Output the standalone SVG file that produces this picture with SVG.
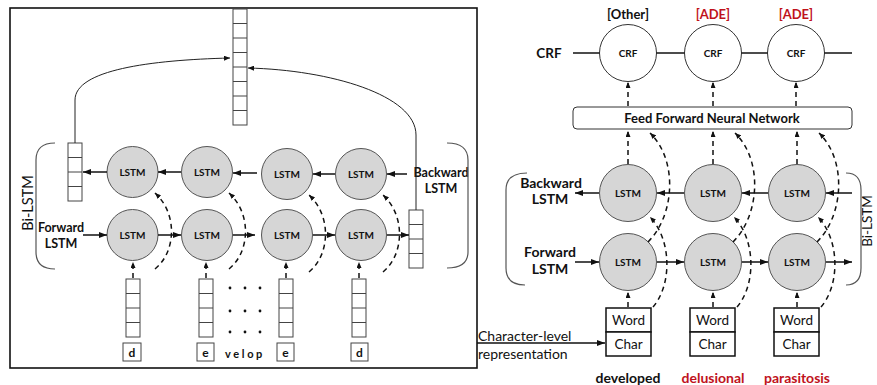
<svg xmlns="http://www.w3.org/2000/svg" xmlns:xlink="http://www.w3.org/1999/xlink" width="877" height="385" viewBox="0 0 877 385">
  <defs>
    <style>
      text { font-family: Lato, "Liberation Sans", sans-serif; fill: #111; }
      .b { font-weight: bold; }
      .red { fill: #c0121c; }
      .lstm { fill: #d6d6d6; stroke: #555; stroke-width: 1; }
      .crf { fill: #fff; stroke: #333; stroke-width: 1; }
      .cell { fill: #fff; stroke: #444; stroke-width: 1; }
      .solid { fill: none; stroke: #111; stroke-width: 1.5; }
      .thin { fill: none; stroke: #222; stroke-width: 1; }
      .dash { fill: none; stroke: #111; stroke-width: 1.5; stroke-dasharray: 5 4; }
      .brace { fill: none; stroke: #555; stroke-width: 1.2; }
      .lt { font-size: 10px; font-weight: bold; text-anchor: middle; dominant-baseline: central; }
    </style>
    <marker id="ah" viewBox="0 0 8 6" refX="8" refY="3" markerWidth="8" markerHeight="6" markerUnits="userSpaceOnUse" orient="auto">
      <path d="M0,0 L8,3 L0,6 z" fill="#111"/>
    </marker>
    <marker id="ahs" viewBox="0 0 6 5" refX="6" refY="2.5" markerWidth="6" markerHeight="5" markerUnits="userSpaceOnUse" orient="auto">
      <path d="M0,0 L6,2.5 L0,5 z" fill="#111"/>
    </marker>
    <!-- four-cell vector -->
    <g id="vec4">
      <rect class="cell" x="0" y="0" width="14" height="58"/>
      <line class="cell" x1="0" y1="14.5" x2="14" y2="14.5"/>
      <line class="cell" x1="0" y1="29" x2="14" y2="29"/>
      <line class="cell" x1="0" y1="43.5" x2="14" y2="43.5"/>
    </g>
  </defs>

  <rect x="0" y="0" width="877" height="385" fill="#fff"/>

  <!-- ===== Character-level Bi-LSTM panel ===== -->
  <rect x="10" y="8" width="467" height="360" fill="none" stroke="#111" stroke-width="1.6"/>

  <!-- concatenated character representation -->
  <g id="char-repr">
    <rect class="cell" x="233" y="9" width="14" height="116"/>
    <line class="cell" x1="233" y1="23.5" x2="247" y2="23.5"/>
    <line class="cell" x1="233" y1="38" x2="247" y2="38"/>
    <line class="cell" x1="233" y1="52.5" x2="247" y2="52.5"/>
    <line class="cell" x1="233" y1="67" x2="247" y2="67"/>
    <line class="cell" x1="233" y1="81.5" x2="247" y2="81.5"/>
    <line class="cell" x1="233" y1="96" x2="247" y2="96"/>
    <line class="cell" x1="233" y1="110.5" x2="247" y2="110.5"/>
  </g>

  <g id="bwd-out"><use xlink:href="#vec4" x="68" y="143"/></g>
  <g id="fwd-out"><use xlink:href="#vec4" x="409" y="210"/></g>

  <g id="char-in-1"><use xlink:href="#vec4" x="126" y="279"/><rect class="cell" x="123" y="343" width="18" height="18"/><text class="b" x="132" y="352" font-size="12" text-anchor="middle" dominant-baseline="central">d</text></g>
  <g id="char-in-2"><use xlink:href="#vec4" x="199" y="279"/><rect class="cell" x="197" y="343" width="17" height="18"/><text class="b" x="205.5" y="352" font-size="12" text-anchor="middle" dominant-baseline="central">e</text></g>
  <g id="char-in-3"><use xlink:href="#vec4" x="279" y="279"/><rect class="cell" x="277" y="343" width="17" height="18"/><text class="b" x="285.5" y="352" font-size="12" text-anchor="middle" dominant-baseline="central">e</text></g>
  <g id="char-in-4"><use xlink:href="#vec4" x="352" y="279"/><rect class="cell" x="351" y="343" width="17" height="18"/><text class="b" x="359.5" y="352" font-size="12" text-anchor="middle" dominant-baseline="central">d</text></g>

  <g id="ellipsis" fill="#111">
    <circle cx="230" cy="288" r="1.4"/><circle cx="245" cy="288" r="1.4"/><circle cx="260" cy="288" r="1.4"/>
    <circle cx="230" cy="311" r="1.4"/><circle cx="245" cy="311" r="1.4"/><circle cx="260" cy="311" r="1.4"/>
    <circle cx="230" cy="332" r="1.4"/><circle cx="245" cy="332" r="1.4"/><circle cx="260" cy="332" r="1.4"/>
    <text class="b" x="245" y="353" font-size="11" letter-spacing="2.6" text-anchor="middle" dominant-baseline="central">velop</text>
  </g>

  <g id="c-bwd-1"><circle class="lstm" cx="132.5" cy="172" r="25.5"/><text class="lt" x="132.5" y="172">LSTM</text></g>
  <g id="c-bwd-2"><circle class="lstm" cx="207" cy="172" r="25.5"/><text class="lt" x="207" y="172">LSTM</text></g>
  <g id="c-bwd-3"><circle class="lstm" cx="287" cy="174" r="25.5"/><text class="lt" x="287" y="174">LSTM</text></g>
  <g id="c-bwd-4"><circle class="lstm" cx="361" cy="174" r="25.5"/><text class="lt" x="361" y="174">LSTM</text></g>
  <g id="c-fwd-1"><circle class="lstm" cx="132.5" cy="235" r="25.5"/><text class="lt" x="132.5" y="235">LSTM</text></g>
  <g id="c-fwd-2"><circle class="lstm" cx="207" cy="235" r="25.5"/><text class="lt" x="207" y="235">LSTM</text></g>
  <g id="c-fwd-3"><circle class="lstm" cx="287" cy="235" r="25.5"/><text class="lt" x="287" y="235">LSTM</text></g>
  <g id="c-fwd-4"><circle class="lstm" cx="361" cy="235" r="25.5"/><text class="lt" x="361" y="235">LSTM</text></g>

  <g id="c-labels">
    <text class="b" x="441" y="172" font-size="12.5" text-anchor="middle" dominant-baseline="central">Backward</text>
    <text class="b" x="441" y="188" font-size="12.5" text-anchor="middle" dominant-baseline="central">LSTM</text>
    <text class="b" x="61" y="227" font-size="12.5" text-anchor="middle" dominant-baseline="central">Forward</text>
    <text class="b" x="61" y="243" font-size="12.5" text-anchor="middle" dominant-baseline="central">LSTM</text>
    <text x="27" y="203" font-size="14.5" text-anchor="middle" dominant-baseline="central" transform="rotate(-90 27 203)">Bi-LSTM</text>
    <path class="brace" d="M55,143 Q36,143 36,160 L36,252 Q36,269 55,269"/>
    <path class="brace" d="M447,143 Q468,143 468,160 L468,252 Q468,268 447,268"/>
  </g>

  <!-- ===== Word-level Bi-LSTM-CRF panel ===== -->
  <g id="crf-labels">
    <text class="b" x="549" y="53" font-size="13.5" text-anchor="middle" dominant-baseline="central">CRF</text>
    <text class="b" x="628" y="14" font-size="13" text-anchor="middle" dominant-baseline="central">[Other]</text>
    <text class="b red" x="713" y="14" font-size="13" text-anchor="middle" dominant-baseline="central">[ADE]</text>
    <text class="b red" x="796" y="14" font-size="13" text-anchor="middle" dominant-baseline="central">[ADE]</text>
  </g>
  <g id="crf-1"><circle class="crf" cx="628" cy="53" r="28.5"/><text class="lt" x="628" y="53">CRF</text></g>
  <g id="crf-2"><circle class="crf" cx="713" cy="53" r="28.5"/><text class="lt" x="713" y="53">CRF</text></g>
  <g id="crf-3"><circle class="crf" cx="796" cy="53" r="28.5"/><text class="lt" x="796" y="53">CRF</text></g>

  <g id="ffnn">
    <rect x="573" y="107" width="279" height="22" rx="4" fill="#fff" stroke="#333" stroke-width="1"/>
    <text class="b" x="712" y="118" font-size="13" text-anchor="middle" dominant-baseline="central">Feed Forward Neural Network</text>
  </g>

  <g id="w-bwd-1"><circle class="lstm" cx="628" cy="193" r="28.5"/><text class="lt" x="628" y="193" font-size="10.5">LSTM</text></g>
  <g id="w-bwd-2"><circle class="lstm" cx="713" cy="193" r="28.5"/><text class="lt" x="713" y="193" font-size="10.5">LSTM</text></g>
  <g id="w-bwd-3"><circle class="lstm" cx="797" cy="193" r="28.5"/><text class="lt" x="797" y="193" font-size="10.5">LSTM</text></g>
  <g id="w-fwd-1"><circle class="lstm" cx="628" cy="262" r="28.5"/><text class="lt" x="628" y="262" font-size="10.5">LSTM</text></g>
  <g id="w-fwd-2"><circle class="lstm" cx="713" cy="262" r="28.5"/><text class="lt" x="713" y="262" font-size="10.5">LSTM</text></g>
  <g id="w-fwd-3"><circle class="lstm" cx="797" cy="262" r="28.5"/><text class="lt" x="797" y="262" font-size="10.5">LSTM</text></g>

  <g id="w-labels">
    <text class="b" x="551" y="182" font-size="14" text-anchor="middle" dominant-baseline="central">Backward</text>
    <text class="b" x="550" y="198" font-size="14" text-anchor="middle" dominant-baseline="central">LSTM</text>
    <text class="b" x="550" y="251" font-size="14" text-anchor="middle" dominant-baseline="central">Forward</text>
    <text class="b" x="550" y="268" font-size="14" text-anchor="middle" dominant-baseline="central">LSTM</text>
    <!-- side label, tucked against the right edge -->
    <text x="-221" y="0" font-size="13.5" text-anchor="middle" transform="translate(872 0) rotate(-90)">Bi-LSTM</text>
    <path class="brace" d="M527,173 Q506,173 506,190 L506,268 Q506,285 525,285"/>
    <path class="brace" d="M846,173 Q861,173 861,190 L861,268 Q861,285 846,285"/>
  </g>

  <g id="tok-1">
    <rect x="606" y="308" width="45" height="24" fill="#fff" stroke="#111" stroke-width="1.5"/>
    <rect x="606" y="332" width="45" height="24" fill="#fff" stroke="#111" stroke-width="1.5"/>
    <text x="628.5" y="320" font-size="13.5" text-anchor="middle" dominant-baseline="central">Word</text>
    <text x="628.5" y="344" font-size="13.5" text-anchor="middle" dominant-baseline="central">Char</text>
    <text class="b" x="628" y="377" font-size="14" text-anchor="middle" dominant-baseline="central">developed</text>
  </g>
  <g id="tok-2">
    <rect x="690" y="308" width="45" height="24" fill="#fff" stroke="#111" stroke-width="1.5"/>
    <rect x="690" y="332" width="45" height="24" fill="#fff" stroke="#111" stroke-width="1.5"/>
    <text x="712.5" y="320" font-size="13.5" text-anchor="middle" dominant-baseline="central">Word</text>
    <text x="712.5" y="344" font-size="13.5" text-anchor="middle" dominant-baseline="central">Char</text>
    <text class="b red" x="713" y="377" font-size="14" text-anchor="middle" dominant-baseline="central">delusional</text>
  </g>
  <g id="tok-3">
    <rect x="774" y="308" width="45" height="24" fill="#fff" stroke="#111" stroke-width="1.5"/>
    <rect x="774" y="332" width="45" height="24" fill="#fff" stroke="#111" stroke-width="1.5"/>
    <text x="796.5" y="320" font-size="13.5" text-anchor="middle" dominant-baseline="central">Word</text>
    <text x="796.5" y="344" font-size="13.5" text-anchor="middle" dominant-baseline="central">Char</text>
    <text class="b red" x="797" y="377" font-size="14" text-anchor="middle" dominant-baseline="central">parasitosis</text>
  </g>

  <g id="char-label">
    <text x="478" y="335" font-size="14" dominant-baseline="central">Character-level</text>
    <text x="478" y="353" font-size="14" dominant-baseline="central">representation</text>
  </g>

  <!-- ===== connectors ===== -->
  <g id="connectors">
    <!-- char panel: gather to concatenated vector -->
    <path class="thin" d="M75,143 L75,100 C75,70 150,60 230,58" marker-end="url(#ahs)"/>
    <path class="thin" d="M416,210 L416,135 C416,95 330,70 248,68" marker-end="url(#ahs)"/>

    <!-- backward chain -->
    <line class="solid" x1="407" y1="174" x2="387" y2="174" marker-end="url(#ah)"/>
    <line class="solid" x1="335" y1="174" x2="313" y2="174" marker-end="url(#ah)"/>
    <line class="solid" x1="257" y1="173" x2="233" y2="173" marker-end="url(#ah)"/>
    <line class="solid" x1="181" y1="172" x2="158" y2="172" marker-end="url(#ah)"/>
    <line class="solid" x1="107" y1="172" x2="83" y2="172" marker-end="url(#ah)"/>

    <!-- forward chain -->
    <line class="solid" x1="83" y1="235" x2="107" y2="235" marker-end="url(#ah)"/>
    <line class="solid" x1="158" y1="235" x2="181" y2="235" marker-end="url(#ah)"/>
    <line class="solid" x1="233" y1="235" x2="255" y2="235" marker-end="url(#ah)"/>
    <line class="solid" x1="313" y1="235" x2="335" y2="235" marker-end="url(#ah)"/>
    <line class="solid" x1="387" y1="235" x2="409" y2="235" marker-end="url(#ah)"/>

    <!-- char embeddings into forward cells -->
    <line class="dash" x1="133" y1="278" x2="133" y2="262" marker-end="url(#ahs)"/>
    <line class="dash" x1="206" y1="278" x2="206" y2="262" marker-end="url(#ahs)"/>
    <line class="dash" x1="286" y1="278" x2="286" y2="262" marker-end="url(#ahs)"/>
    <line class="dash" x1="359" y1="278" x2="359" y2="262" marker-end="url(#ahs)"/>

    <!-- char embeddings into backward cells -->
    <path class="dash" d="M155,269 C176,252 178,214 155,193" marker-end="url(#ahs)"/>
    <path class="dash" d="M229,269 C250,252 252,214 229,193" marker-end="url(#ahs)"/>
    <path class="dash" d="M309,272 C330,255 332,216 309,195" marker-end="url(#ahs)"/>
    <path class="dash" d="M383,272 C404,255 406,216 383,195" marker-end="url(#ahs)"/>

    <!-- char representation into word panel -->
    <line class="solid" x1="477" y1="343" x2="605" y2="343" marker-end="url(#ah)"/>

    <!-- CRF chain -->
    <line class="solid" x1="573" y1="53" x2="599.5" y2="53"/>
    <line class="solid" x1="656.5" y1="53" x2="684.5" y2="53"/>
    <line class="solid" x1="741.5" y1="53" x2="767.5" y2="53"/>
    <line class="solid" x1="824.5" y1="53" x2="852" y2="53"/>

    <!-- FFNN to CRF -->
    <line class="dash" x1="628" y1="106" x2="628" y2="82" marker-end="url(#ahs)"/>
    <line class="dash" x1="713" y1="106" x2="713" y2="82" marker-end="url(#ahs)"/>
    <line class="dash" x1="796" y1="106" x2="796" y2="82" marker-end="url(#ahs)"/>

    <!-- backward cells to FFNN -->
    <line class="dash" x1="628" y1="164" x2="628" y2="131" marker-end="url(#ahs)"/>
    <line class="dash" x1="713" y1="164" x2="713" y2="131" marker-end="url(#ahs)"/>
    <line class="dash" x1="797" y1="164" x2="797" y2="131" marker-end="url(#ahs)"/>

    <!-- word backward chain -->
    <line class="solid" x1="852" y1="193" x2="826" y2="193" marker-end="url(#ah)"/>
    <line class="solid" x1="768" y1="193" x2="742" y2="193" marker-end="url(#ah)"/>
    <line class="solid" x1="684" y1="193" x2="657" y2="193" marker-end="url(#ah)"/>
    <line class="solid" x1="599" y1="193" x2="575" y2="193" marker-end="url(#ah)"/>

    <!-- word forward chain -->
    <line class="solid" x1="575" y1="262" x2="599" y2="262" marker-end="url(#ah)"/>
    <line class="solid" x1="657" y1="262" x2="684" y2="262" marker-end="url(#ah)"/>
    <line class="solid" x1="742" y1="262" x2="768" y2="262" marker-end="url(#ah)"/>
    <line class="solid" x1="826" y1="262" x2="852" y2="262" marker-end="url(#ah)"/>

    <!-- token input into forward cells -->
    <line class="dash" x1="628" y1="307" x2="628" y2="292" marker-end="url(#ahs)"/>
    <line class="dash" x1="713" y1="307" x2="713" y2="292" marker-end="url(#ahs)"/>
    <line class="dash" x1="797" y1="307" x2="797" y2="292" marker-end="url(#ahs)"/>

    <!-- token input into backward cells -->
    <path class="dash" d="M653,307 C672,285 672,240 650,217" marker-end="url(#ahs)"/>
    <path class="dash" d="M737,307 C756,285 756,240 734,217" marker-end="url(#ahs)"/>
    <path class="dash" d="M821,307 C840,285 840,240 818,217" marker-end="url(#ahs)"/>

    <!-- forward cells into FFNN -->
    <path class="dash" d="M648,242 C675,215 678,160 650,133" marker-end="url(#ahs)"/>
    <path class="dash" d="M733,242 C760,215 763,160 735,133" marker-end="url(#ahs)"/>
    <path class="dash" d="M817,242 C844,215 847,160 819,133" marker-end="url(#ahs)"/>
  </g>
</svg>
